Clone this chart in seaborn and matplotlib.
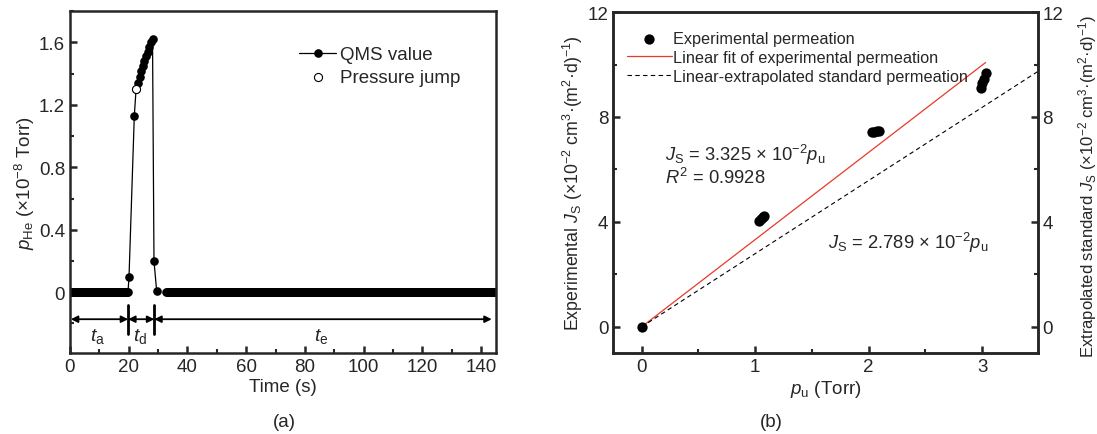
import numpy as np
import pandas as pd
import matplotlib
matplotlib.use("Agg")
import matplotlib.pyplot as plt
from matplotlib.ticker import MultipleLocator
import seaborn as sns

sns.set_style("ticks")
plt.rcParams['font.family'] = ['Liberation Sans', 'DejaVu Sans']
plt.rcParams['mathtext.fontset'] = 'custom'
plt.rcParams['mathtext.rm'] = 'Liberation Sans'
plt.rcParams['mathtext.it'] = 'Liberation Sans:italic'
plt.rcParams['mathtext.bf'] = 'Liberation Sans:bold'
plt.rcParams['font.size'] = 13.5

# ---------------- Panel (a) data ----------------
# baseline before the jump (sampled every 0.25 s, value 0)
t_base1 = np.arange(0.0, 19.85, 0.25)
p_base1 = np.zeros_like(t_base1)
# rise / plateau / fall
t_peak = [20.1, 21.9, 22.5, 23.2, 23.7, 24.2, 24.8, 25.3, 25.9, 26.4, 27.0, 27.5, 28.1, 28.6, 29.5]
p_peak = [0.10, 1.13, 1.30, 1.34, 1.38, 1.42, 1.45, 1.48, 1.51, 1.54, 1.57, 1.60, 1.62, 0.20, 0.01]
# baseline after the jump
t_base2 = np.arange(32.8, 144.8, 0.25)
p_base2 = np.zeros_like(t_base2)
# pressure jump point
t_jump = [22.5]
p_jump = [1.30]

# ---------------- Panel (b) data ----------------
pu_exp = [0.0, 1.03, 1.05, 1.07, 1.08, 2.03, 2.05, 2.07, 2.09, 2.99, 3.00, 3.02, 3.03]
js_exp = [0.0, 4.03, 4.10, 4.17, 4.22, 7.43, 7.44, 7.45, 7.48, 9.12, 9.30, 9.45, 9.68]
slope_fit = 3.325
slope_std = 2.789
fit_x = [0.0, 3.03]
std_x = [0.0, 3.6]

fig = plt.figure(figsize=(10.97, 4.35), dpi=100)
axa = fig.add_axes([0.0638, 0.186, 0.452 - 0.0638, 0.972 - 0.186])
axb = fig.add_axes([0.559, 0.186, 0.946 - 0.559, 0.970 - 0.186])

# ---- panel (a) ----
seg1 = pd.DataFrame({"t": np.concatenate([t_base1, t_peak]),
                     "p": np.concatenate([p_base1, p_peak])})
seg2 = pd.DataFrame({"t": t_base2, "p": p_base2})
sns.lineplot(data=seg1, x="t", y="p", ax=axa, color="black", lw=0.9,
             marker="o", markersize=6.2, markeredgewidth=0, sort=False,
             estimator=None, label="QMS value")
sns.lineplot(data=seg2, x="t", y="p", ax=axa, color="black", lw=0.9,
             marker="o", markersize=6.2, markeredgewidth=0, sort=False,
             estimator=None, legend=False)
sns.scatterplot(x=t_jump, y=p_jump, ax=axa, s=34, facecolor="white",
                edgecolor="black", linewidth=0.8, zorder=5, label="Pressure jump")

axa.set_xlim(0, 145)
axa.set_ylim(-0.39, 1.80)
axa.xaxis.set_major_locator(MultipleLocator(20))
axa.xaxis.set_minor_locator(MultipleLocator(10))
axa.yaxis.set_minor_locator(MultipleLocator(0.2))
axa.set_yticks([0, 0.4, 0.8, 1.2, 1.6])
axa.set_yticklabels(["0", "0.4", "0.8", "1.2", "1.6"])
axa.set_xlabel("Time (s)", fontsize=13.5, labelpad=2)
axa.set_ylabel(r"$p_{\rm He}$ (×10$^{-8}$ Torr)", fontsize=13.5, labelpad=1)

# time interval arrows
ya = -0.173
arr = dict(arrowstyle="<|-|>", color="black", lw=1.3, mutation_scale=10, shrinkA=0, shrinkB=0)
axa.annotate("", xy=(0.3, ya), xytext=(19.8, ya), arrowprops=arr)
axa.annotate("", xy=(19.8, ya), xytext=(28.7, ya), arrowprops=arr)
axa.annotate("", xy=(28.7, ya), xytext=(143.6, ya), arrowprops=arr)
for xv in [19.8, 28.7]:
    axa.plot([xv, xv], [-0.085, -0.265], color="black", lw=2)
axa.text(9.5, -0.28, r"$t_{\rm a}$", ha="center", va="center", fontsize=14)
axa.text(24.0, -0.28, r"$t_{\rm d}$", ha="center", va="center", fontsize=14)
axa.text(85.7, -0.28, r"$t_{\rm e}$", ha="center", va="center", fontsize=14)

axa.legend(loc="upper left", bbox_to_anchor=(0.52, 0.92), frameon=False,
           fontsize=13.5, handlelength=2.0, handletextpad=0.2,
           labelspacing=0.3, borderaxespad=0)

# ---- panel (b) ----
sns.scatterplot(x=pu_exp, y=js_exp, ax=axb, s=55, color="black",
                edgecolor="black", linewidth=0, zorder=5,
                label="Experimental permeation")
sns.lineplot(x=fit_x, y=[slope_fit * v for v in fit_x], ax=axb, color="#e8392a",
             lw=0.9, label="Linear fit of experimental permeation")
sns.lineplot(x=std_x, y=[slope_std * v for v in std_x], ax=axb, color="black",
             lw=0.8, linestyle=(0, (4, 3)),
             label="Linear-extrapolated standard permeation")
axb.set_xlim(-0.25, 3.49)
axb.set_ylim(-1, 12)
axb.xaxis.set_major_locator(MultipleLocator(1))
axb.xaxis.set_minor_locator(MultipleLocator(0.5))
axb.yaxis.set_major_locator(MultipleLocator(4))
axb.yaxis.set_minor_locator(MultipleLocator(2))
axb.set_xlabel(r"$p_{\rm u}$ (Torr)", fontsize=13.5, labelpad=2)
axb.set_ylabel(r"Experimental $J_{\rm S}$ (×10$^{-2}$ cm$^3$·(m$^2$·d)$^{-1}$)",
               fontsize=12.8, labelpad=2)
axb.legend(loc="upper left", bbox_to_anchor=(0.005, 0.978), frameon=False,
           fontsize=11.7, handlelength=2.8, handletextpad=0.05,
           labelspacing=0.25, borderaxespad=0.3)

axb.text(0.21, 6.6, r"$J_{\rm S}$ = 3.325 × 10$^{-2}$$p_{\rm u}$", fontsize=13.2, va="center")
axb.text(0.21, 5.72, r"$R^2$ = 0.9928", fontsize=13.2, va="center")
axb.text(1.64, 3.25, r"$J_{\rm S}$ = 2.789 × 10$^{-2}$$p_{\rm u}$", fontsize=13.2, va="center")

axr = axb.twinx()
axr.set_ylim(-1, 12)
axr.yaxis.set_major_locator(MultipleLocator(4))
axr.yaxis.set_minor_locator(MultipleLocator(2))
axr.set_ylabel(r"Extrapolated standard $J_{\rm S}$ (×10$^{-2}$ cm$^3$·(m$^2$·d)$^{-1}$)",
               fontsize=12.0, rotation=90)
axr.yaxis.set_label_coords(1.09, 0.49)

for ax in [axa, axb, axr]:
    for sp in ax.spines.values():
        sp.set_linewidth(1.8)
        sp.set_visible(True)
    ax.tick_params(which="major", direction="in", length=5, width=1.8, labelsize=13.5)
    ax.tick_params(which="minor", direction="in", length=3, width=1.5)
axa.tick_params(which="both", top=False, right=False)
axb.tick_params(which="both", top=False, right=False)
axr.tick_params(which="both", left=False, right=True)

fig.text(0.259, 0.028, "(a)", ha="center", va="center", fontsize=13.5)
fig.text(0.703, 0.028, "(b)", ha="center", va="center", fontsize=13.5)

fig.savefig("out.png", dpi=100)
